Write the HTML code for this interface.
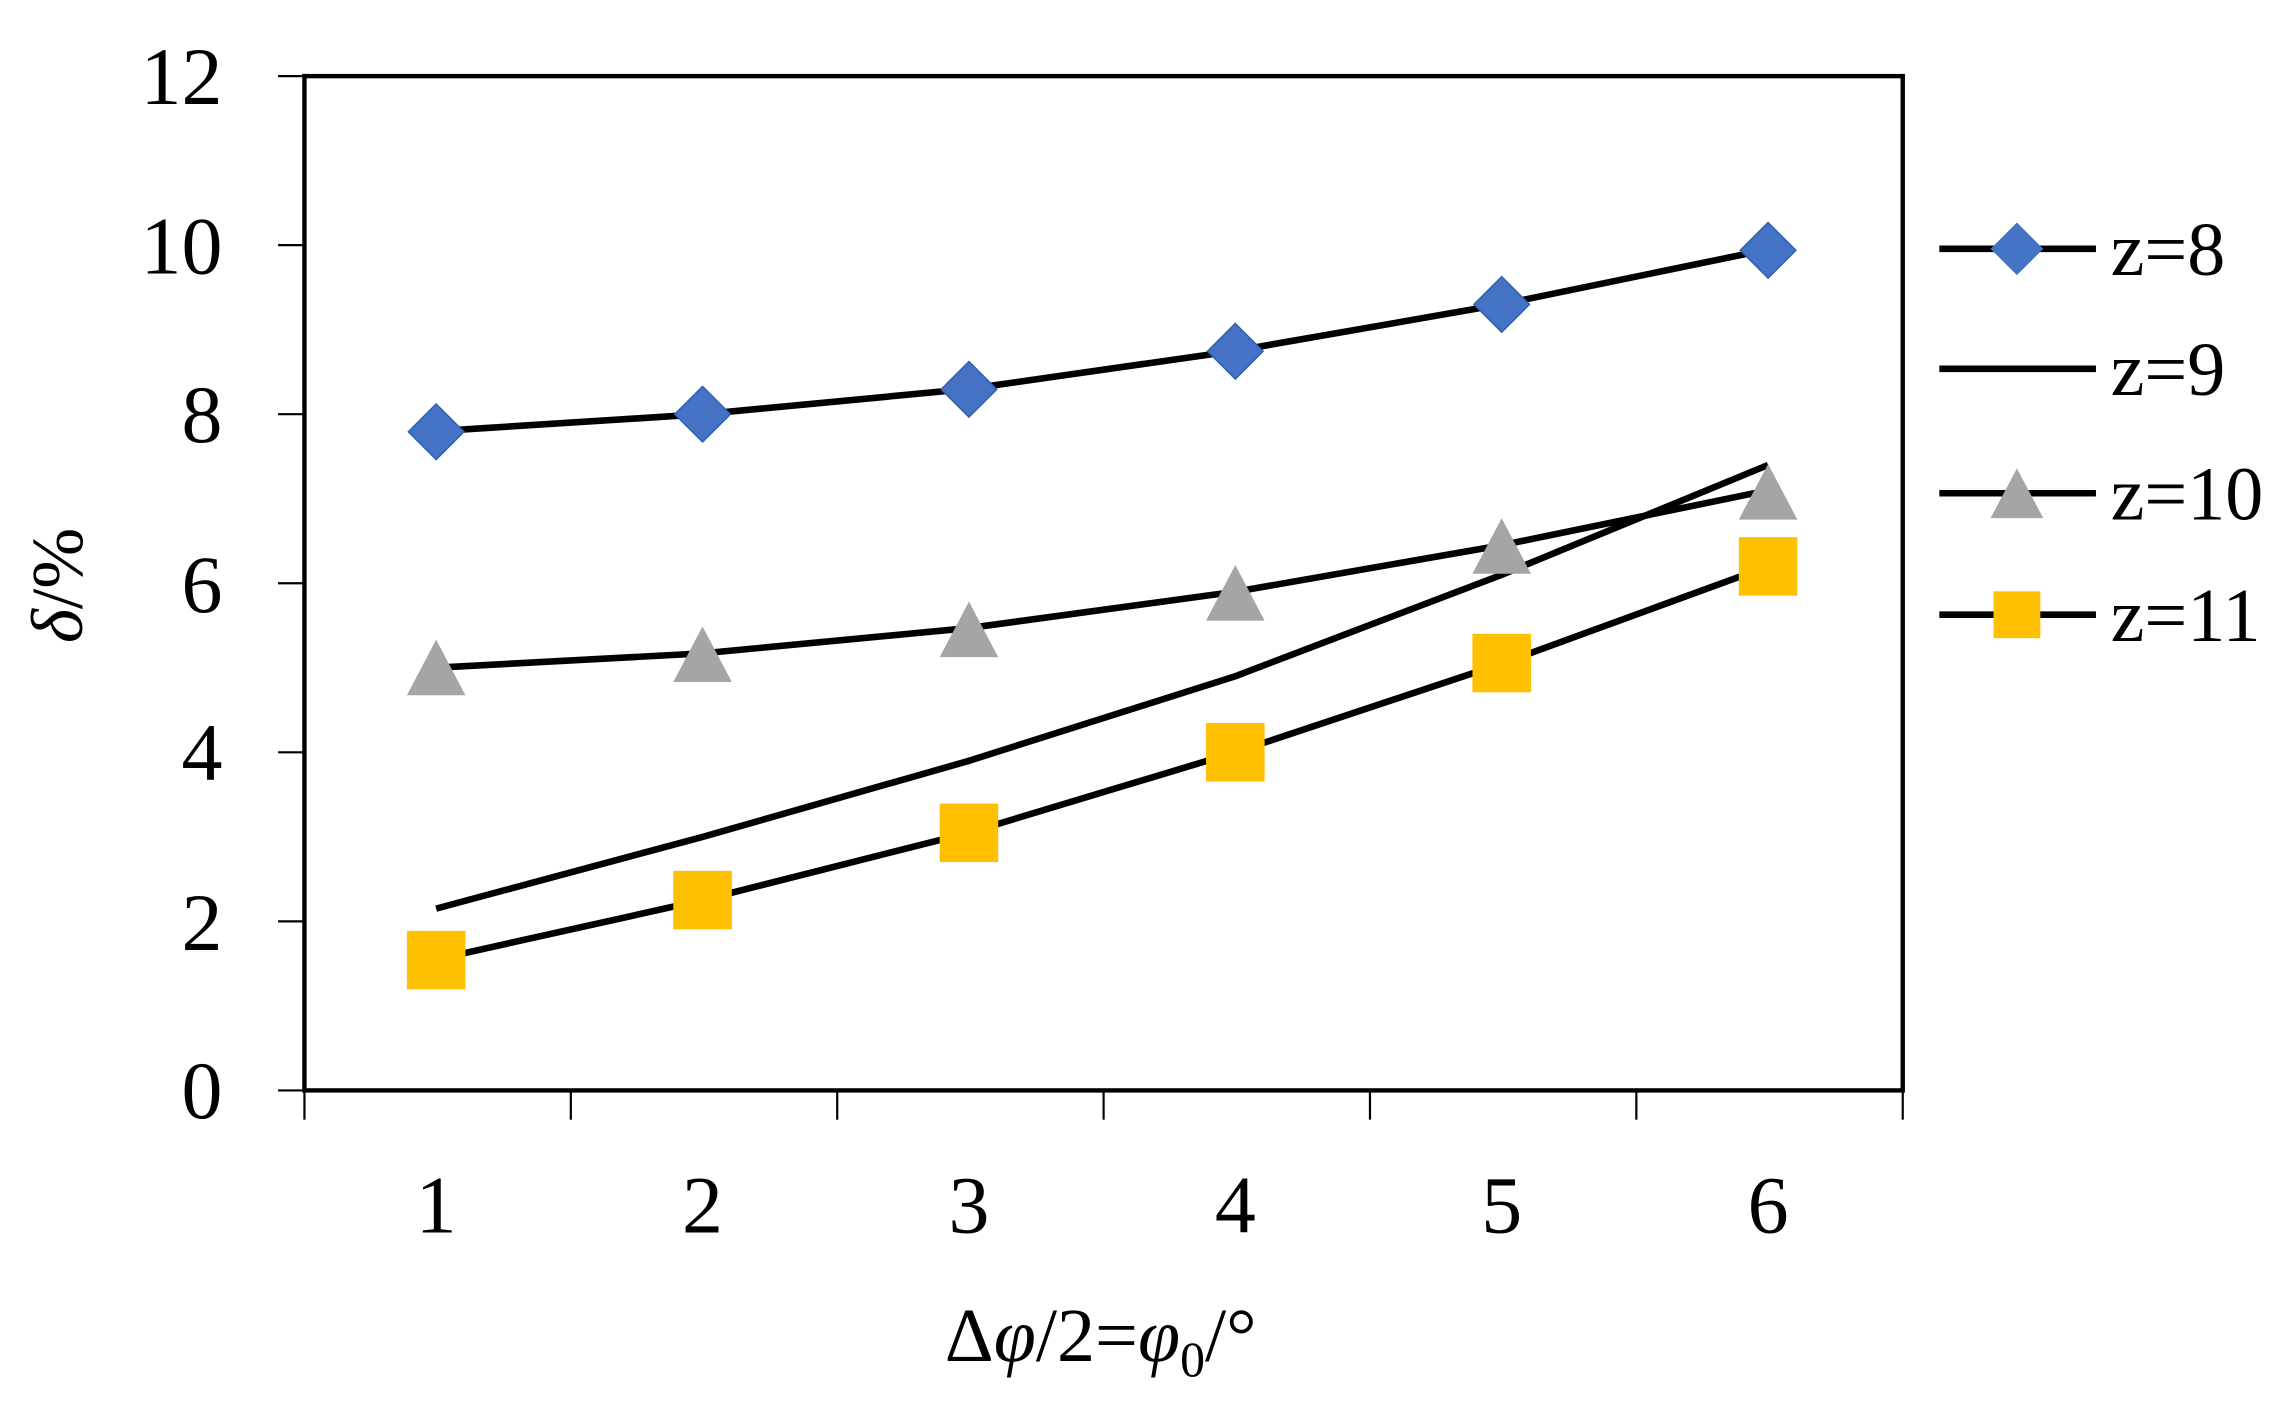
<!DOCTYPE html>
<html><head><style>html,body{margin:0;padding:0;background:#fff}svg{display:block}</style></head>
<body>
<svg width="2295" height="1419" viewBox="0 0 1568 969.5" preserveAspectRatio="none" xmlns="http://www.w3.org/2000/svg" font-family="Liberation Serif, serif">
<rect x="208" y="52" width="1092" height="693" fill="none" stroke="#000" stroke-width="3"/>
<g stroke="#000" stroke-width="1.5">
<line x1="190" y1="52" x2="208" y2="52"/><line x1="190" y1="167.5" x2="208" y2="167.5"/><line x1="190" y1="283" x2="208" y2="283"/><line x1="190" y1="398.5" x2="208" y2="398.5"/><line x1="190" y1="514" x2="208" y2="514"/><line x1="190" y1="629.5" x2="208" y2="629.5"/><line x1="190" y1="745" x2="208" y2="745"/>
<line x1="208" y1="745" x2="208" y2="765"/><line x1="390" y1="745" x2="390" y2="765"/><line x1="572" y1="745" x2="572" y2="765"/><line x1="754" y1="745" x2="754" y2="765"/><line x1="936" y1="745" x2="936" y2="765"/><line x1="1118" y1="745" x2="1118" y2="765"/><line x1="1300" y1="745" x2="1300" y2="765"/>
</g>
<g font-size="56" text-anchor="end">
<text x="152" y="71">12</text><text x="152" y="187">10</text><text x="152" y="302">8</text><text x="152" y="418">6</text><text x="152" y="533">4</text><text x="152" y="649">2</text><text x="152" y="764">0</text>
</g>
<g font-size="56" text-anchor="middle">
<text x="298" y="842">1</text><text x="480" y="842">2</text><text x="662" y="842">3</text><text x="844" y="842">4</text><text x="1026" y="842">5</text><text x="1208" y="842">6</text>
</g>
<text x="752" y="930" font-size="52" text-anchor="middle">Δ<tspan font-style="italic">φ</tspan>/2=<tspan font-style="italic">φ</tspan><tspan font-size="34" dy="10">0</tspan><tspan dy="-10">/°</tspan></text>
<text transform="translate(56,400) rotate(-90)" font-size="50" text-anchor="middle"><tspan font-style="italic">δ</tspan>/%</text>
<g fill="none" stroke="#000" stroke-width="4.5">
<polyline points="298,294.6 480,283 662,265.7 844,239.7 1026,207.9 1208,170.4"/>
<polyline points="298,620.8 480,571.8 662,519.8 844,462 1026,392.7 1208,317.7"/>
<polyline points="298,456.2 480,446.4 662,429.1 844,404.3 1026,372.5 1208,335"/>
<polyline points="298,655.5 480,615 662,568.9 844,514 1026,453.4 1208,386.9"/>
</g>
<g fill="#4472C4" stroke="#2f5fae" stroke-width="1">
<path d="M298,276 l19,19 -19,19 -19,-19z"/><path d="M480,264 l19,19 -19,19 -19,-19z"/><path d="M662,247 l19,19 -19,19 -19,-19z"/><path d="M844,221 l19,19 -19,19 -19,-19z"/><path d="M1026,189 l19,19 -19,19 -19,-19z"/><path d="M1208,152 l19,19 -19,19 -19,-19z"/>
</g>
<g fill="#A5A5A5">
<path d="M298,437 l20,38 h-40z"/><path d="M480,428 l20,38 h-40z"/><path d="M662,411 l20,38 h-40z"/><path d="M844,386 l20,38 h-40z"/><path d="M1026,354 l20,38 h-40z"/><path d="M1208,317 l20,38 h-40z"/>
</g>
<g fill="#FFC000">
<rect x="278" y="636" width="40" height="40"/><rect x="460" y="595" width="40" height="40"/><rect x="642" y="549" width="40" height="40"/><rect x="824" y="494" width="40" height="40"/><rect x="1006" y="433" width="40" height="40"/><rect x="1188" y="367" width="40" height="40"/>
</g>
<g stroke="#000" stroke-width="4.5">
<line x1="1325" y1="170" x2="1432" y2="170"/><line x1="1325" y1="252" x2="1432" y2="252"/><line x1="1325" y1="337" x2="1432" y2="337"/><line x1="1325" y1="420" x2="1432" y2="420"/>
</g>
<path d="M1378,152 l18,18 -18,18 -18,-18z" fill="#4472C4"/>
<path d="M1378,320 l18,34 h-36z" fill="#A5A5A5"/>
<rect x="1362" y="404" width="32" height="32" fill="#FFC000"/>
<g font-size="52">
<text x="1442" y="188">z=8</text><text x="1442" y="270">z=9</text><text x="1442" y="355">z=10</text><text x="1442" y="438">z=11</text>
</g>
</svg>
</body></html>
